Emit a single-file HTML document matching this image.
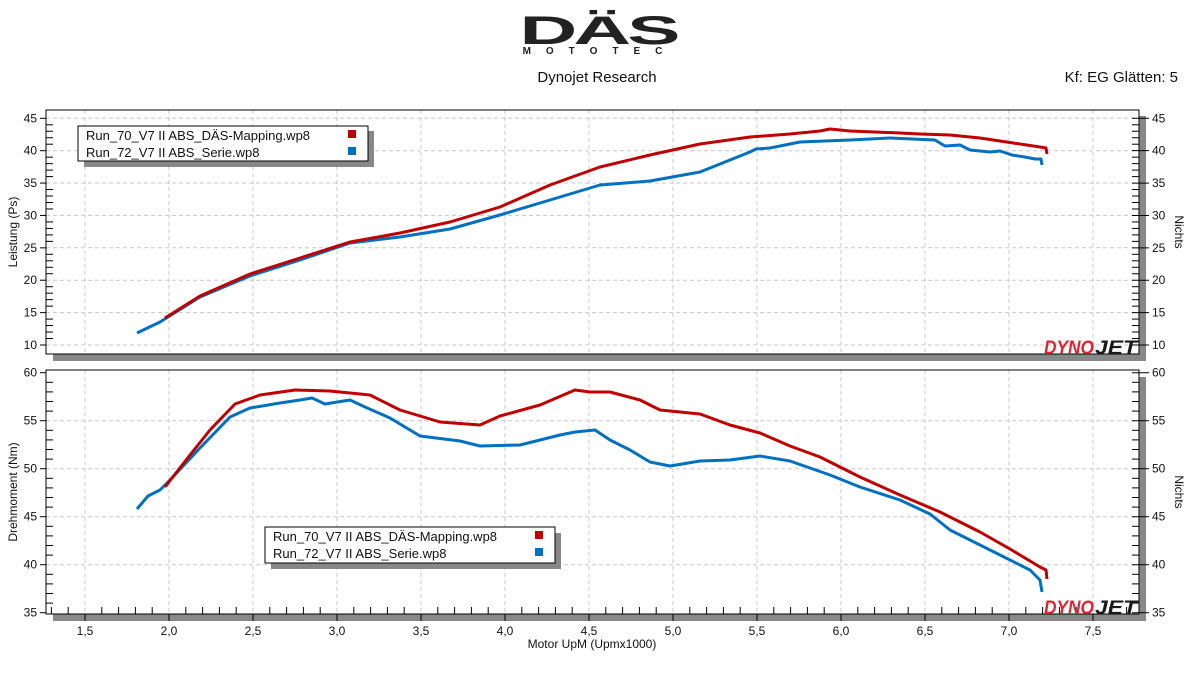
<!DOCTYPE html>
<html><head><meta charset="utf-8"><style>
body{margin:0;background:#fff;width:1197px;height:673px;overflow:hidden}
text{font-family:"Liberation Sans","DejaVu Sans",sans-serif}
</style></head><body>
<svg width="1197" height="673" viewBox="0 0 1197 673" xmlns="http://www.w3.org/2000/svg">
<g transform="translate(598,44) scale(2.0,1)">
<text x="0" y="0" text-anchor="middle" font-size="40" font-weight="bold" fill="#222" letter-spacing="-2">DÄS</text>
</g>
<text x="600" y="54" text-anchor="middle" font-size="10" font-weight="bold" fill="#222" letter-spacing="15">MOTOTEC</text>
<text x="597" y="82" text-anchor="middle" font-size="15" fill="#111">Dynojet Research</text>
<text x="1178" y="82" text-anchor="end" font-size="15" fill="#111">Kf: EG Glätten: 5</text>

<rect x="53" y="354" width="1093" height="7" fill="#888"/>
<rect x="1139" y="116" width="7" height="245" fill="#888"/>
<rect x="53" y="614" width="1093" height="7" fill="#888"/>
<rect x="1139" y="377" width="7" height="244" fill="#888"/>

<g stroke="#c8c8c8" stroke-dasharray="4,3" stroke-width="1">
<line x1="85" y1="110" x2="85" y2="354"/><line x1="169" y1="110" x2="169" y2="354"/><line x1="253" y1="110" x2="253" y2="354"/><line x1="337" y1="110" x2="337" y2="354"/><line x1="421" y1="110" x2="421" y2="354"/><line x1="505" y1="110" x2="505" y2="354"/><line x1="589" y1="110" x2="589" y2="354"/><line x1="673" y1="110" x2="673" y2="354"/><line x1="757" y1="110" x2="757" y2="354"/><line x1="841" y1="110" x2="841" y2="354"/><line x1="925" y1="110" x2="925" y2="354"/><line x1="1009" y1="110" x2="1009" y2="354"/><line x1="1093" y1="110" x2="1093" y2="354"/>
<line x1="46" y1="118.3" x2="1139" y2="118.3"/><line x1="46" y1="150.7" x2="1139" y2="150.7"/><line x1="46" y1="183" x2="1139" y2="183"/><line x1="46" y1="215.4" x2="1139" y2="215.4"/><line x1="46" y1="247.8" x2="1139" y2="247.8"/><line x1="46" y1="280.2" x2="1139" y2="280.2"/><line x1="46" y1="312.6" x2="1139" y2="312.6"/><line x1="46" y1="345" x2="1139" y2="345"/>
<line x1="85" y1="370" x2="85" y2="614"/><line x1="169" y1="370" x2="169" y2="614"/><line x1="253" y1="370" x2="253" y2="614"/><line x1="337" y1="370" x2="337" y2="614"/><line x1="421" y1="370" x2="421" y2="614"/><line x1="505" y1="370" x2="505" y2="614"/><line x1="589" y1="370" x2="589" y2="614"/><line x1="673" y1="370" x2="673" y2="614"/><line x1="757" y1="370" x2="757" y2="614"/><line x1="841" y1="370" x2="841" y2="614"/><line x1="925" y1="370" x2="925" y2="614"/><line x1="1009" y1="370" x2="1009" y2="614"/><line x1="1093" y1="370" x2="1093" y2="614"/>
<line x1="46" y1="420.7" x2="1139" y2="420.7"/><line x1="46" y1="468.7" x2="1139" y2="468.7"/><line x1="46" y1="516.7" x2="1139" y2="516.7"/><line x1="46" y1="564.7" x2="1139" y2="564.7"/>
</g>

<rect x="46" y="110" width="1093" height="244" fill="none" stroke="#000"/>
<rect x="46" y="370" width="1093" height="244" fill="none" stroke="#000"/>

<g stroke="#000" stroke-width="1" id="ticks"></g>
<g font-size="12" fill="#111" id="labels"></g>

<g fill="none" stroke-width="3" stroke-linejoin="round">
<polyline stroke="#0070c0" points="137,333 160,322 200,297 250,276 300,260 350,243 400,237 450,229 500,215 550,200 600,185 650,181 700,172 750,152 756,149 770,148 790,144 800,142 850,140 890,138 935,140 945,146 960,145 970,150 990,152 1000,151 1012,155 1025,157 1035,159 1041,159 1042,165"/>
<polyline stroke="#c00000" points="165,318 200,296 250,274 300,258 350,242 400,233 450,222 500,207 550,185 600,167 650,155 700,144 750,137 790,134 820,131 830,129 840,130 850,131 900,133 920,134 950,135 980,138 1000,141 1020,144 1040,147 1046,148 1047,154"/>
<polyline stroke="#0070c0" points="137,509 148,496 160,490 170,480 200,448 230,417 250,408 280,403 300,400 312,398 325,404 350,400 365,407 390,418 420,436 460,441 480,446 520,445 560,435 575,432 595,430 610,440 630,450 650,462 670,466 700,461 730,460 760,456 790,461 830,475 860,487 900,500 930,514 950,530 980,545 1000,555 1030,570 1040,580 1042,592"/>
<polyline stroke="#c00000" points="165,487 190,455 210,430 235,404 260,395 295,390 330,391 370,395 400,410 440,422 480,425 500,416 540,405 575,390 590,392 610,392 640,400 660,410 700,414 730,425 760,433 790,446 820,457 860,477 900,495 940,512 980,532 1010,549 1040,567 1046,570 1047,579"/>
</g>

<rect x="84" y="131" width="290" height="36" fill="#888"/>
<rect x="78" y="126" width="290" height="35" fill="#fff" stroke="#000"/>
<text x="86" y="140" font-size="13" fill="#111">Run_70_V7 II ABS_DÄS-Mapping.wp8</text>
<text x="86" y="157" font-size="13" fill="#111">Run_72_V7 II ABS_Serie.wp8</text>
<rect x="348" y="130" width="8" height="8" fill="#c00000"/><rect x="348" y="147" width="8" height="8" fill="#0070c0"/>
<rect x="271" y="533" width="290" height="36" fill="#888"/>
<rect x="265" y="527" width="290" height="36" fill="#fff" stroke="#000"/>
<text x="273" y="541" font-size="13" fill="#111">Run_70_V7 II ABS_DÄS-Mapping.wp8</text>
<text x="273" y="558" font-size="13" fill="#111">Run_72_V7 II ABS_Serie.wp8</text>
<rect x="535" y="531" width="8" height="8" fill="#c00000"/><rect x="535" y="548" width="8" height="8" fill="#0070c0"/>

<g font-size="19" font-weight="bold" font-style="italic">
<text x="1044" y="354" fill="#e8202e" textLength="50" lengthAdjust="spacingAndGlyphs">DYNO</text><text x="1095" y="354" fill="#1a1a1a" textLength="42" lengthAdjust="spacingAndGlyphs">JET</text>
<text x="1044" y="614" fill="#e8202e" textLength="50" lengthAdjust="spacingAndGlyphs">DYNO</text><text x="1095" y="614" fill="#1a1a1a" textLength="42" lengthAdjust="spacingAndGlyphs">JET</text>
</g>

<text transform="translate(17,232) rotate(-90)" text-anchor="middle" font-size="12" fill="#111">Leistung (Ps)</text>
<text transform="translate(17,492) rotate(-90)" text-anchor="middle" font-size="12" fill="#111">Drehmoment (Nm)</text>
<text transform="translate(1175,232) rotate(90)" text-anchor="middle" font-size="12" fill="#111">Nichts</text>
<text transform="translate(1175,492) rotate(90)" text-anchor="middle" font-size="12" fill="#111">Nichts</text>
<text x="592" y="648" text-anchor="middle" font-size="12" fill="#111">Motor UpM (Upmx1000)</text>
</svg>
<script>
var ns="http://www.w3.org/2000/svg",T=document.getElementById('ticks'),L=document.getElementById('labels');
function ln(a,b,c,d){var e=document.createElementNS(ns,'line');e.setAttribute('x1',a);e.setAttribute('y1',b);e.setAttribute('x2',c);e.setAttribute('y2',d);T.appendChild(e);}
function tx(x,y,s,an){var e=document.createElementNS(ns,'text');e.setAttribute('x',x);e.setAttribute('y',y);e.setAttribute('text-anchor',an);e.textContent=s;L.appendChild(e);}
for(var v=10;v<=45;v++){var y=118.3+(45-v)*6.477;var maj=v%5==0;ln(46,y,maj?40:53,y);ln(1132,y,maj?1149:1139,y);if(maj){tx(37,y+4,v,'end');tx(1152,y+4,v,'start');}}
for(var v=35;v<=60;v++){var y=372.7+(60-v)*9.6;var maj=v%5==0;ln(46,y,maj?40:53,y);ln(1132,y,maj?1149:1139,y);if(maj){tx(37,y+4,v,'end');tx(1152,y+4,v,'start');}}
for(var i=13;i<=77;i++){var x=85+(i-15)*16.8;if(x<46||x>1139)continue;var maj=i%5==0;ln(x,614,x,maj?621:607);if(maj)tx(x,635,(i/10).toFixed(1).replace('.',','),'middle');}
</script>
</body></html>
